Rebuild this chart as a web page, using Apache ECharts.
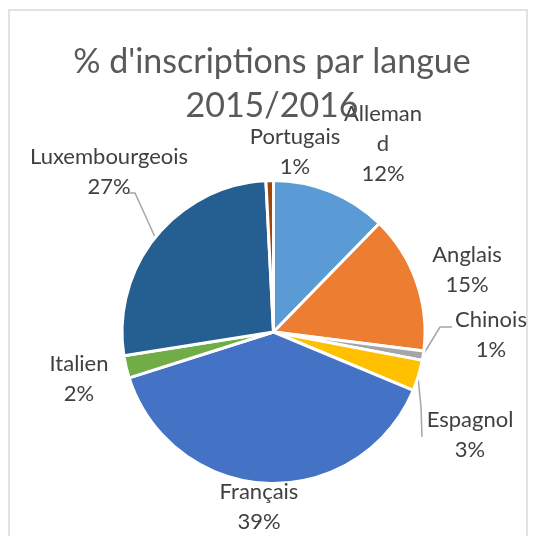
<!DOCTYPE html>
<html>
<head>
<meta charset="utf-8">
<script src="https://cdn.jsdelivr.net/npm/echarts@6/dist/echarts.min.js"></script>
<style>
  html, body { margin: 0; padding: 0; background: #fff; }
  #chart { width: 538px; height: 536px; }
</style>
</head>
<body>
<div id="chart"></div>
<script>
const languages = ['Alleman\nd', 'Anglais', 'Chinois', 'Espagnol', 'Français', 'Italien', 'Luxembourgeois', 'Portugais']
const shares = [12.3, 14.7, 1.0, 3.3, 38.8, 2.4, 26.7, 0.8]
const colors = ['#5B9BD5', '#ED7D31', '#A5A5A5', '#FFC000', '#4472C4', '#70AD47', '#255E91', '#9E480E']

// placement des étiquettes (style Excel "ajustement optimal")
const labelPos = [
  [383, 144], [467, 270], [491, 335], [470, 435],
  [259, 507], [79, 379], [109, 172], [295, 152]
]
const leaderLines = {
  2: [[423, 355], [440, 327], [452, 327]],
  3: [[418, 377], [421, 407], [422, 437]],
  6: [[155, 237], [135, 193], [127, 193]]
}

const chart = echarts.init(document.getElementById('chart'), null, { renderer: 'canvas' })

const option = {
  animation: false,
  graphic: [
    {
      type: 'rect',
      shape: { x: 9, y: 10, width: 518, height: 540 },
      style: { fill: 'none', stroke: '#D9D9D9', lineWidth: 1.5 },
      silent: true
    }
  ],
  title: {
    text: "% d'inscriptions par langue\n2015/2016",
    left: 267,
    top: 35,
    textAlign: 'center',
    textStyle: {
      fontFamily: 'Lato',
      fontSize: 34,
      fontWeight: 'normal',
      color: '#595959',
      lineHeight: 44
    }
  },
  series: [
    {
      type: 'pie',
      center: [273.5, 332],
      radius: 151.5,
      startAngle: 90,
      clockwise: true,
      avoidLabelOverlap: false,
      itemStyle: { borderColor: '#fff', borderWidth: 3 },
      label: {
        show: true,
        position: 'outside',
        fontFamily: 'Lato',
        fontSize: 22,
        color: '#404040',
        lineHeight: 30,
        align: 'center',
        formatter: p => p.name + '\n' + Math.round(p.value) + '%'
      },
      labelLine: { show: true, length: 10, length2: 10, lineStyle: { color: '#A6A6A6', width: 1.5 } },
      labelLayout: p => {
        const pos = labelPos[p.dataIndex]
        const out = { x: pos[0], y: pos[1], align: 'center', verticalAlign: 'middle' }
        if (leaderLines[p.dataIndex]) out.labelLinePoints = leaderLines[p.dataIndex]
        return out
      },
      emphasis: { disabled: true },
      data: languages.map((name, i) => ({
        name: name,
        value: shares[i],
        itemStyle: { color: colors[i] },
        labelLine: { show: !!leaderLines[i] }
      }))
    }
  ]
}

chart.setOption(option)
</script>
</body>
</html>
